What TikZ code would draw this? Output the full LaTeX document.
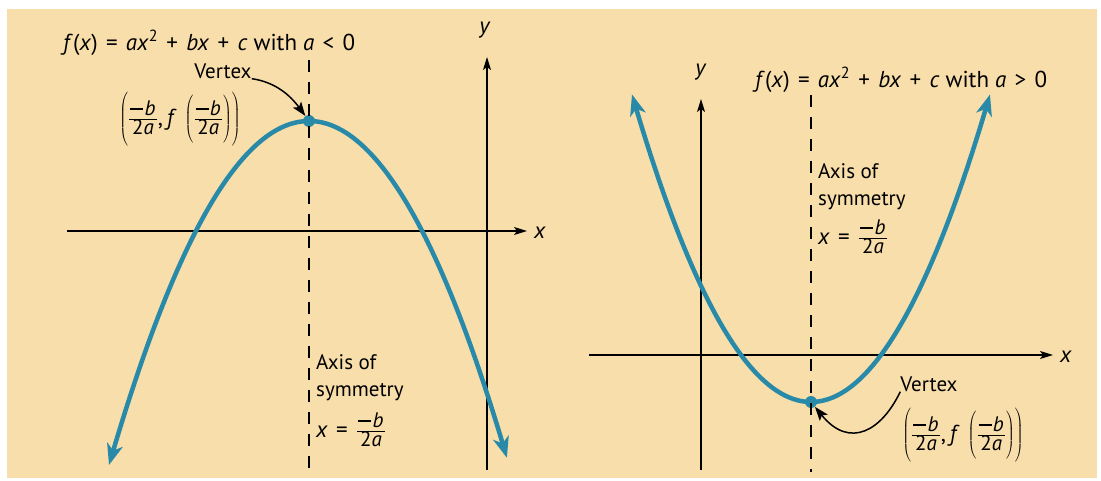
\documentclass[tikz,border=0pt]{standalone}
\usepackage{fontspec}
\setmainfont{PT Sans}
\usetikzlibrary{arrows.meta}
\definecolor{cream}{RGB}{248,222,170}
\definecolor{tealc}{RGB}{40,138,168}
\newcommand{\fracsz}{\fontsize{21}{23}\selectfont}
\newcommand{\mminus}{\rule[0.27em]{0.62em}{0.075em}\kern0.06em}
\newcommand{\mfrac}{\ensuremath{\frac{\mbox{\fracsz\kern1pt\mminus\textit{b}\kern1pt}}{\mbox{\fracsz 2\textit{a}}}}}
\newcommand{\vcoord}{$\left(\rule[-21pt]{0pt}{45pt}\mfrac\mbox{,\,\textit{f}\,}\left(\rule[-18pt]{0pt}{39pt}\mfrac\right)\right)$}
\newcommand{\opsp}[1]{\kern0.36em#1\kern0.36em}
\begin{document}
\begin{tikzpicture}[x=1pt,y=-1pt,
  axis/.style={line width=1.3pt, -{Stealth[length=13pt,width=8pt,inset=3pt]}},
  curve/.style={line width=4.5pt, tealc, {Stealth[length=21pt,width=16pt,inset=6pt]}-{Stealth[length=21pt,width=16pt,inset=6pt]}},
  sym/.style={line width=1.3pt, dash pattern=on 12pt off 10pt},
  lbl/.style={font=\fontsize{21}{27}\selectfont, inner sep=0pt},
  mth/.style={font=\fontsize{23}{27}\selectfont, inner sep=0pt},
  pointer/.style={line width=1.5pt, -{Stealth[length=14pt,width=10pt,inset=3pt]}},
  dot/.style={circle, fill=tealc, inner sep=0pt, minimum size=12pt}]
\useasboundingbox (0,0) rectangle (1101,481);
\fill[white] (0,0) rectangle (1101,481);
\fill[cream] (7,9) rectangle (1097,478);

% ---------- left panel (a < 0)
\coordinate (Lx0) at (67,231);
\coordinate (Lx1) at (527,231);
\coordinate (Ly0) at (487,470);
\coordinate (Ly1) at (487,57);
\coordinate (Ld0) at (309,60);
\coordinate (Ld1) at (309,472);
\draw[axis] (Lx0) -- (Lx1);
\draw[axis] (Ly0) -- (Ly1);
\node[mth] (Lxl) at (540,233) {\textit{x}};
\node[mth] (Lyl) at (485,30) {\textit{y}};
\draw[curve] plot[domain=-2:1.98, samples=90, smooth] ({309+100*\x},{121+86*\x*\x});
\node[dot] (vL) at (309,121) {};
\draw[sym] (Ld0) -- (Ld1);
\node[mth, anchor=west] (tL) at (63,43) {\textit{f}(\textit{x})\opsp{=}\textit{ax}\textsuperscript{2}\opsp{+}\textit{bx}\opsp{+}\textit{c} with \textit{a}\opsp{<}0};
\node[lbl] (vtL) at (223,71) {Vertex};
\node[mth] (cL) at (180,119) {\vcoord};
\draw[pointer] (vtL.south east) .. controls (275,82) and (290,95) .. (vL);
\node[lbl, anchor=north west, align=left] (aL) at (316,354) {Axis of\\symmetry};
\node[mth, anchor=west] (fL) at (316,430) {\textit{x}\opsp{=}\mfrac};

% ---------- right panel (a > 0)
\coordinate (Rx0) at (589,355);
\coordinate (Rx1) at (1053,355);
\coordinate (Ry0) at (701,470);
\coordinate (Ry1) at (701,99);
\coordinate (Rd0) at (811,95);
\coordinate (Rd1) at (811,472);
\draw[axis] (Rx0) -- (Rx1);
\draw[axis] (Ry0) -- (Ry1);
\node[mth] (Rxl) at (1066,357) {\textit{x}};
\node[mth] (Ryl) at (701,72) {\textit{y}};
\draw[curve] plot[domain=-1.79:1.79, samples=90, smooth] ({811+100*\x},{402-96*\x*\x});
\node[dot] (vR) at (811,402) {};
\draw[sym] (Rd0) -- (Rd1);
\node[mth, anchor=west] (tR) at (755,80) {\textit{f}(\textit{x})\opsp{=}\textit{ax}\textsuperscript{2}\opsp{+}\textit{bx}\opsp{+}\textit{c} with \textit{a}\opsp{>}0};
\node[lbl] (vtR) at (929,384) {Vertex};
\node[mth] (cR) at (963,435) {\vcoord};
\draw[pointer] (vtR.south west) .. controls (882,430) and (850,450) .. (vR);
\node[lbl, anchor=north west, align=left] (aR) at (818,163) {Axis of\\symmetry};
\node[mth, anchor=west] (fR) at (818,237) {\textit{x}\opsp{=}\mfrac};
\end{tikzpicture}
\end{document}
